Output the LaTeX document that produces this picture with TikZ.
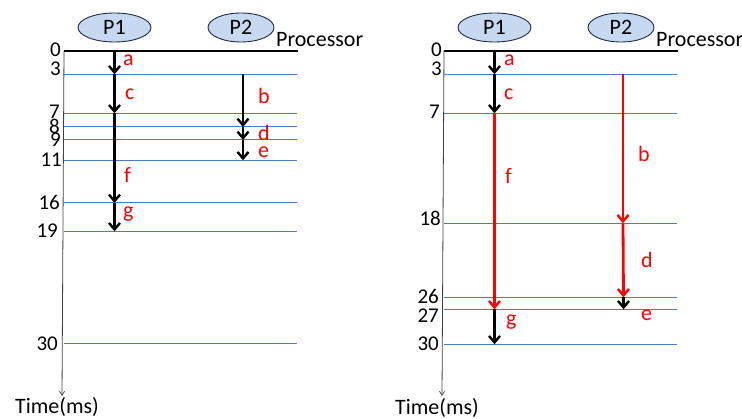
\documentclass[tikz,border=0pt]{standalone}
\usepackage{fontspec}
\setmainfont{Carlito}
\usetikzlibrary{arrows.meta,shapes.geometric}
\definecolor{gridblue}{HTML}{4A7EBB}
\definecolor{procfill}{HTML}{C6D9F1}
\definecolor{procline}{HTML}{1F2A44}
\begin{document}
\begin{tikzpicture}[x=1pt,y=-1pt,
  txt/.style={inner sep=0pt,font=\fontsize{22}{22}\selectfont},
  proc/.style={ellipse,draw=procline,line width=0.9pt,fill=procfill,
    minimum height=29pt,inner sep=0pt,txt},
  tick/.style={inner sep=0pt,font=\fontsize{21}{21}\selectfont,anchor=east},
  lbl/.style={txt,anchor=west,text=red},
  gridline/.style={draw=gridblue,line width=1pt},
  zeroline/.style={draw=black,line width=1.1pt},
  timeaxis/.style={draw=black!75,line width=0.8pt,
    -{Straight Barb[length=4pt,width=5pt,line width=0.7pt]}},
  task/.style={line width=2.8pt,
    -{Straight Barb[length=6.5pt,width=11pt,line width=2.4pt]}},
  crit/.style={task,red}]
\useasboundingbox (0,0) rectangle (742,419);

% ---------------- left schedule ----------------
\node[proc,minimum width=73pt] (LP1) at (114.5,27.5) {P1};
\node[proc,minimum width=66pt] (LP2) at (241,27.5) {P2};
\node[txt,anchor=base west] (Lproc) at (276,47) {Processor};

\coordinate (Lax0) at (64,51);
\coordinate (Laxend) at (62,396);
\draw[timeaxis] (Lax0) -- (Laxend);
\node[txt] (Ltime) at (57,407) {Time(ms)};

\draw[zeroline] (64,51) -- (298,51);
\foreach \yy in {74.3,113.3,127,140,160.3,203,231.3,343.3}
  \draw[gridline] (64,\yy) -- (297,\yy);

\node[tick] (Lt0)  at (61,50)  {0};
\node[tick] (Lt3)  at (61,69)  {3};
\node[tick] (Lt7)  at (60,112) {7};
\node[tick] (Lt8)  at (60,126) {8};
\node[tick] (Lt9)  at (61,140) {9};
\node[tick] (Lt11) at (62,160) {11};
\node[tick] (Lt16) at (60,202) {16};
\node[tick] (Lt19) at (58,231) {19};
\node[tick] (Lt30) at (58,344) {30};

% task boundaries on P1 and P2
\coordinate (La0)  at (114.5,51);
\coordinate (La3)  at (114.5,74.3);
\coordinate (La7)  at (114.5,113.3);
\coordinate (La16) at (114.5,203);
\coordinate (La19) at (114.5,231.3);
\coordinate (Lb3)  at (243,74.3);
\coordinate (Lb8)  at (243,127);
\coordinate (Lb9)  at (243,140);
\coordinate (Lb11) at (243,160.3);

\draw[task] (La0) -- (La3);
\draw[task] (La3) -- (La7);
\draw[task] (La7) -- (La16);
\draw[task] (La16) -- (La19);
\draw[task] (Lb3) -- (Lb8);
\draw[task] (Lb8) -- (Lb9);
\draw[task] (Lb9) -- (Lb11);

\node[lbl] (Lla) at (123,60)  {a};
\node[lbl] (Llc) at (125,94)  {c};
\node[lbl] (Llf) at (124,175) {f};
\node[lbl] (Llg) at (123,214) {g};
\node[lbl] (Llb) at (258,96)  {b};
\node[lbl] (Lld) at (258,133) {d};
\node[lbl] (Lle) at (258,152) {e};

% ---------------- right schedule ----------------
\node[proc,minimum width=73pt] (RP1) at (494.5,27.5) {P1};
\node[proc,minimum width=66pt] (RP2) at (621,27.5) {P2};
\node[txt,anchor=base west] (Rproc) at (656,47) {Processor};

\coordinate (Rax0) at (444,51);
\coordinate (Raxend) at (442,396);
\draw[timeaxis] (Rax0) -- (Raxend);
\node[txt] (Rtime) at (437,408) {Time(ms)};

\draw[zeroline] (444,51) -- (678,51);
\foreach \yy in {74.3,113.3,223.3,297.3,309.3,344.3}
  \draw[gridline] (444,\yy) -- (677,\yy);

\node[tick] (Rt0)  at (442,50)  {0};
\node[tick] (Rt3)  at (442,69)  {3};
\node[tick] (Rt7)  at (440,112) {7};
\node[tick] (Rt18) at (441,218) {18};
\node[tick] (Rt26) at (439,296) {26};
\node[tick] (Rt27) at (439,316) {27};
\node[tick] (Rt30) at (439,344) {30};

\coordinate (Ra0)  at (494.5,51);
\coordinate (Ra3)  at (494.5,74.3);
\coordinate (Ra7)  at (494.5,113.3);
\coordinate (Ra27) at (494.5,309.3);
\coordinate (Ra30) at (494.5,344.3);
\coordinate (Rb3)  at (623,74.3);
\coordinate (Rb18) at (623,223.3);
\coordinate (Rb26) at (623.5,297.3);
\coordinate (Rb27) at (623.5,309.3);

\draw[task] (Ra0) -- (Ra3);
\draw[task] (Ra3) -- (Ra7);
\draw[crit] (Ra7) -- (Ra27);
\draw[task] (Ra27) -- (Ra30);
\draw[crit] (Rb3) -- (Rb18);
\draw[crit] (Rb18) -- (Rb26);
\draw[task] (Rb26) -- (Rb27);

\node[lbl] (Rla) at (504,60)  {a};
\node[lbl] (Rlc) at (504,94)  {c};
\node[lbl] (Rlf) at (505,176) {f};
\node[lbl] (Rlg) at (506,322) {g};
\node[lbl] (Rlb) at (638,154) {b};
\node[lbl] (Rld) at (641,260) {d};
\node[lbl] (Rle) at (641,315) {e};
\end{tikzpicture}
\end{document}
